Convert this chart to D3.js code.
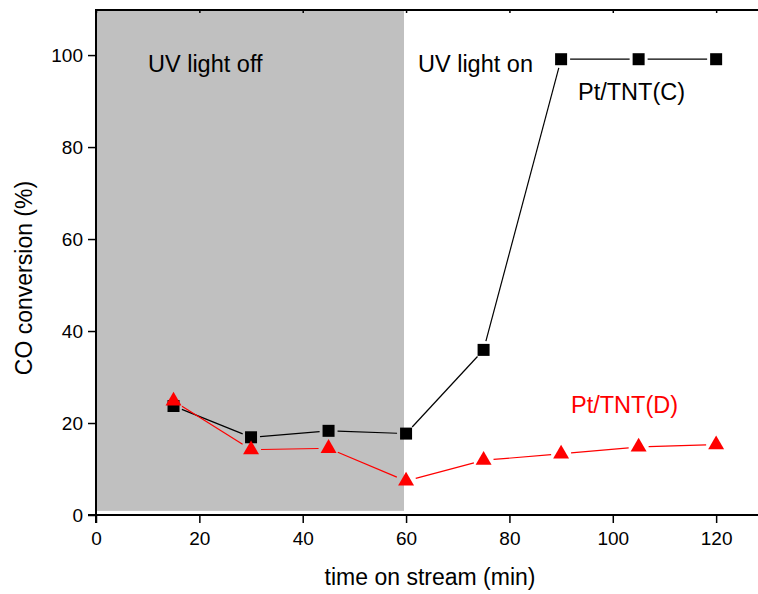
<!DOCTYPE html>
<html><head><meta charset="utf-8">
<script src="https://cdn.jsdelivr.net/npm/d3@7"></script>
<style>body{margin:0;background:#fff}svg{display:block;font-family:"Liberation Sans",Arial,sans-serif}</style>
</head><body><svg id="c" width="758" height="594"></svg>
<script>
const times = [15, 30, 45, 60, 75, 90, 105, 120];
const ptC = [23.7, 16.9, 18.3, 17.7, 35.9, 99.1, 99.1, 99.1];
const ptD = [24.8, 14.2, 14.5, 7.4, 11.9, 13.3, 14.8, 15.3];
const xTicks = [0, 20, 40, 60, 80, 100, 120];
const yTicks = [0, 20, 40, 60, 80, 100];
const shade = {x0: 0, x1: 59.6, y0: 0.9, y1: 110};

const svg = d3.select("#c");
const L = 96, T = 10, B = 515;
const x = d3.scaleLinear().domain([0, 128.1]).range([L, 758]);
const y = d3.scaleLinear().domain([0, 109.8]).range([B, T]);

// shade
svg.append("rect").attr("x", x(shade.x0)).attr("y", y(shade.y1))
  .attr("width", x(shade.x1) - x(shade.x0)).attr("height", y(shade.y0) - y(shade.y1))
  .attr("fill", "#c0c0c0");

// axes
const xa = svg.append("g").attr("transform", `translate(0,${B})`)
  .call(d3.axisBottom(x).tickValues(xTicks).tickSize(8).tickPadding(4).tickSizeOuter(0));
const ya = svg.append("g").attr("transform", `translate(${L},0)`)
  .call(d3.axisLeft(y).tickValues(yTicks).tickSize(8).tickPadding(5).tickSizeOuter(0));
const xt = svg.append("g").attr("transform", `translate(0,${T})`)
  .call(d3.axisTop(x).tickValues(xTicks).tickSize(-3).tickFormat("").tickSizeOuter(0));
[xa, ya, xt].forEach(g => {
  g.select(".domain").attr("stroke", "#000").attr("stroke-width", 2);
  g.selectAll(".tick line").attr("stroke", "#000").attr("stroke-width", 1.5);
  g.selectAll(".tick text").attr("fill", "#000").style("font-size", "19px")
    .style("font-family", '"Liberation Sans",Arial,sans-serif');
});
xa.select(".domain").attr("d", `M${L-8},0H758`);
ya.select(".domain").attr("d", `M0,${B+8}V${T-1}`);
xt.select(".domain").attr("d", `M${L},0H758`);
xa.selectAll(".tick text").attr("dy", "0.95em");

// series
function drawSeries(vals, color, gap0, gap1) {
  const pts = times.map((t, i) => [x(t), y(vals[i])]);
  const g = svg.append("g");
  for (let i = 0; i < pts.length - 1; i++) {
    const [x0, y0] = pts[i], [x1, y1] = pts[i + 1];
    const dx = x1 - x0, dy = y1 - y0, len = Math.hypot(dx, dy);
    if (len <= gap0 + gap1) continue;
    const ux = dx / len, uy = dy / len;
    g.append("line").attr("x1", x0 + ux * gap0).attr("y1", y0 + uy * gap0)
      .attr("x2", x1 - ux * gap1).attr("y2", y1 - uy * gap1)
      .attr("stroke", color).attr("stroke-width", 1.2);
  }
  return pts;
}
const pc = drawSeries(ptC, "#000", 9, 9);
const pd = drawSeries(ptD, "#ff0000", 10, 10);

svg.append("g").selectAll("rect").data(pc).join("rect")
  .attr("x", d => d[0] - 6).attr("y", d => d[1] - 6).attr("width", 12).attr("height", 12)
  .attr("fill", "#000");
const tri = d3.symbol().type(d3.symbolTriangle).size(110);
svg.append("g").selectAll("path").data(pd).join("path")
  .attr("transform", d => `translate(${d[0]},${d[1]})`).attr("d", tri).attr("fill", "#ff0000");

// annotations
const ann = svg.append("g").style("font-size", "23.5px");
ann.append("text").attr("x", 148).attr("y", 72).text("UV light off");
ann.append("text").attr("x", 418).attr("y", 72).text("UV light on");
ann.append("text").attr("x", 578).attr("y", 100).text("Pt/TNT(C)");
ann.append("text").attr("x", 571).attr("y", 413).attr("fill", "#ff0000").text("Pt/TNT(D)");

// axis titles
svg.append("text").attr("x", 430).attr("y", 585).attr("text-anchor", "middle")
  .style("font-size", "23px").text("time on stream (min)");
svg.append("text").attr("transform", "translate(32,278) rotate(-90)").attr("text-anchor", "middle")
  .style("font-size", "23px").text("CO conversion (%)");
</script></body></html>
